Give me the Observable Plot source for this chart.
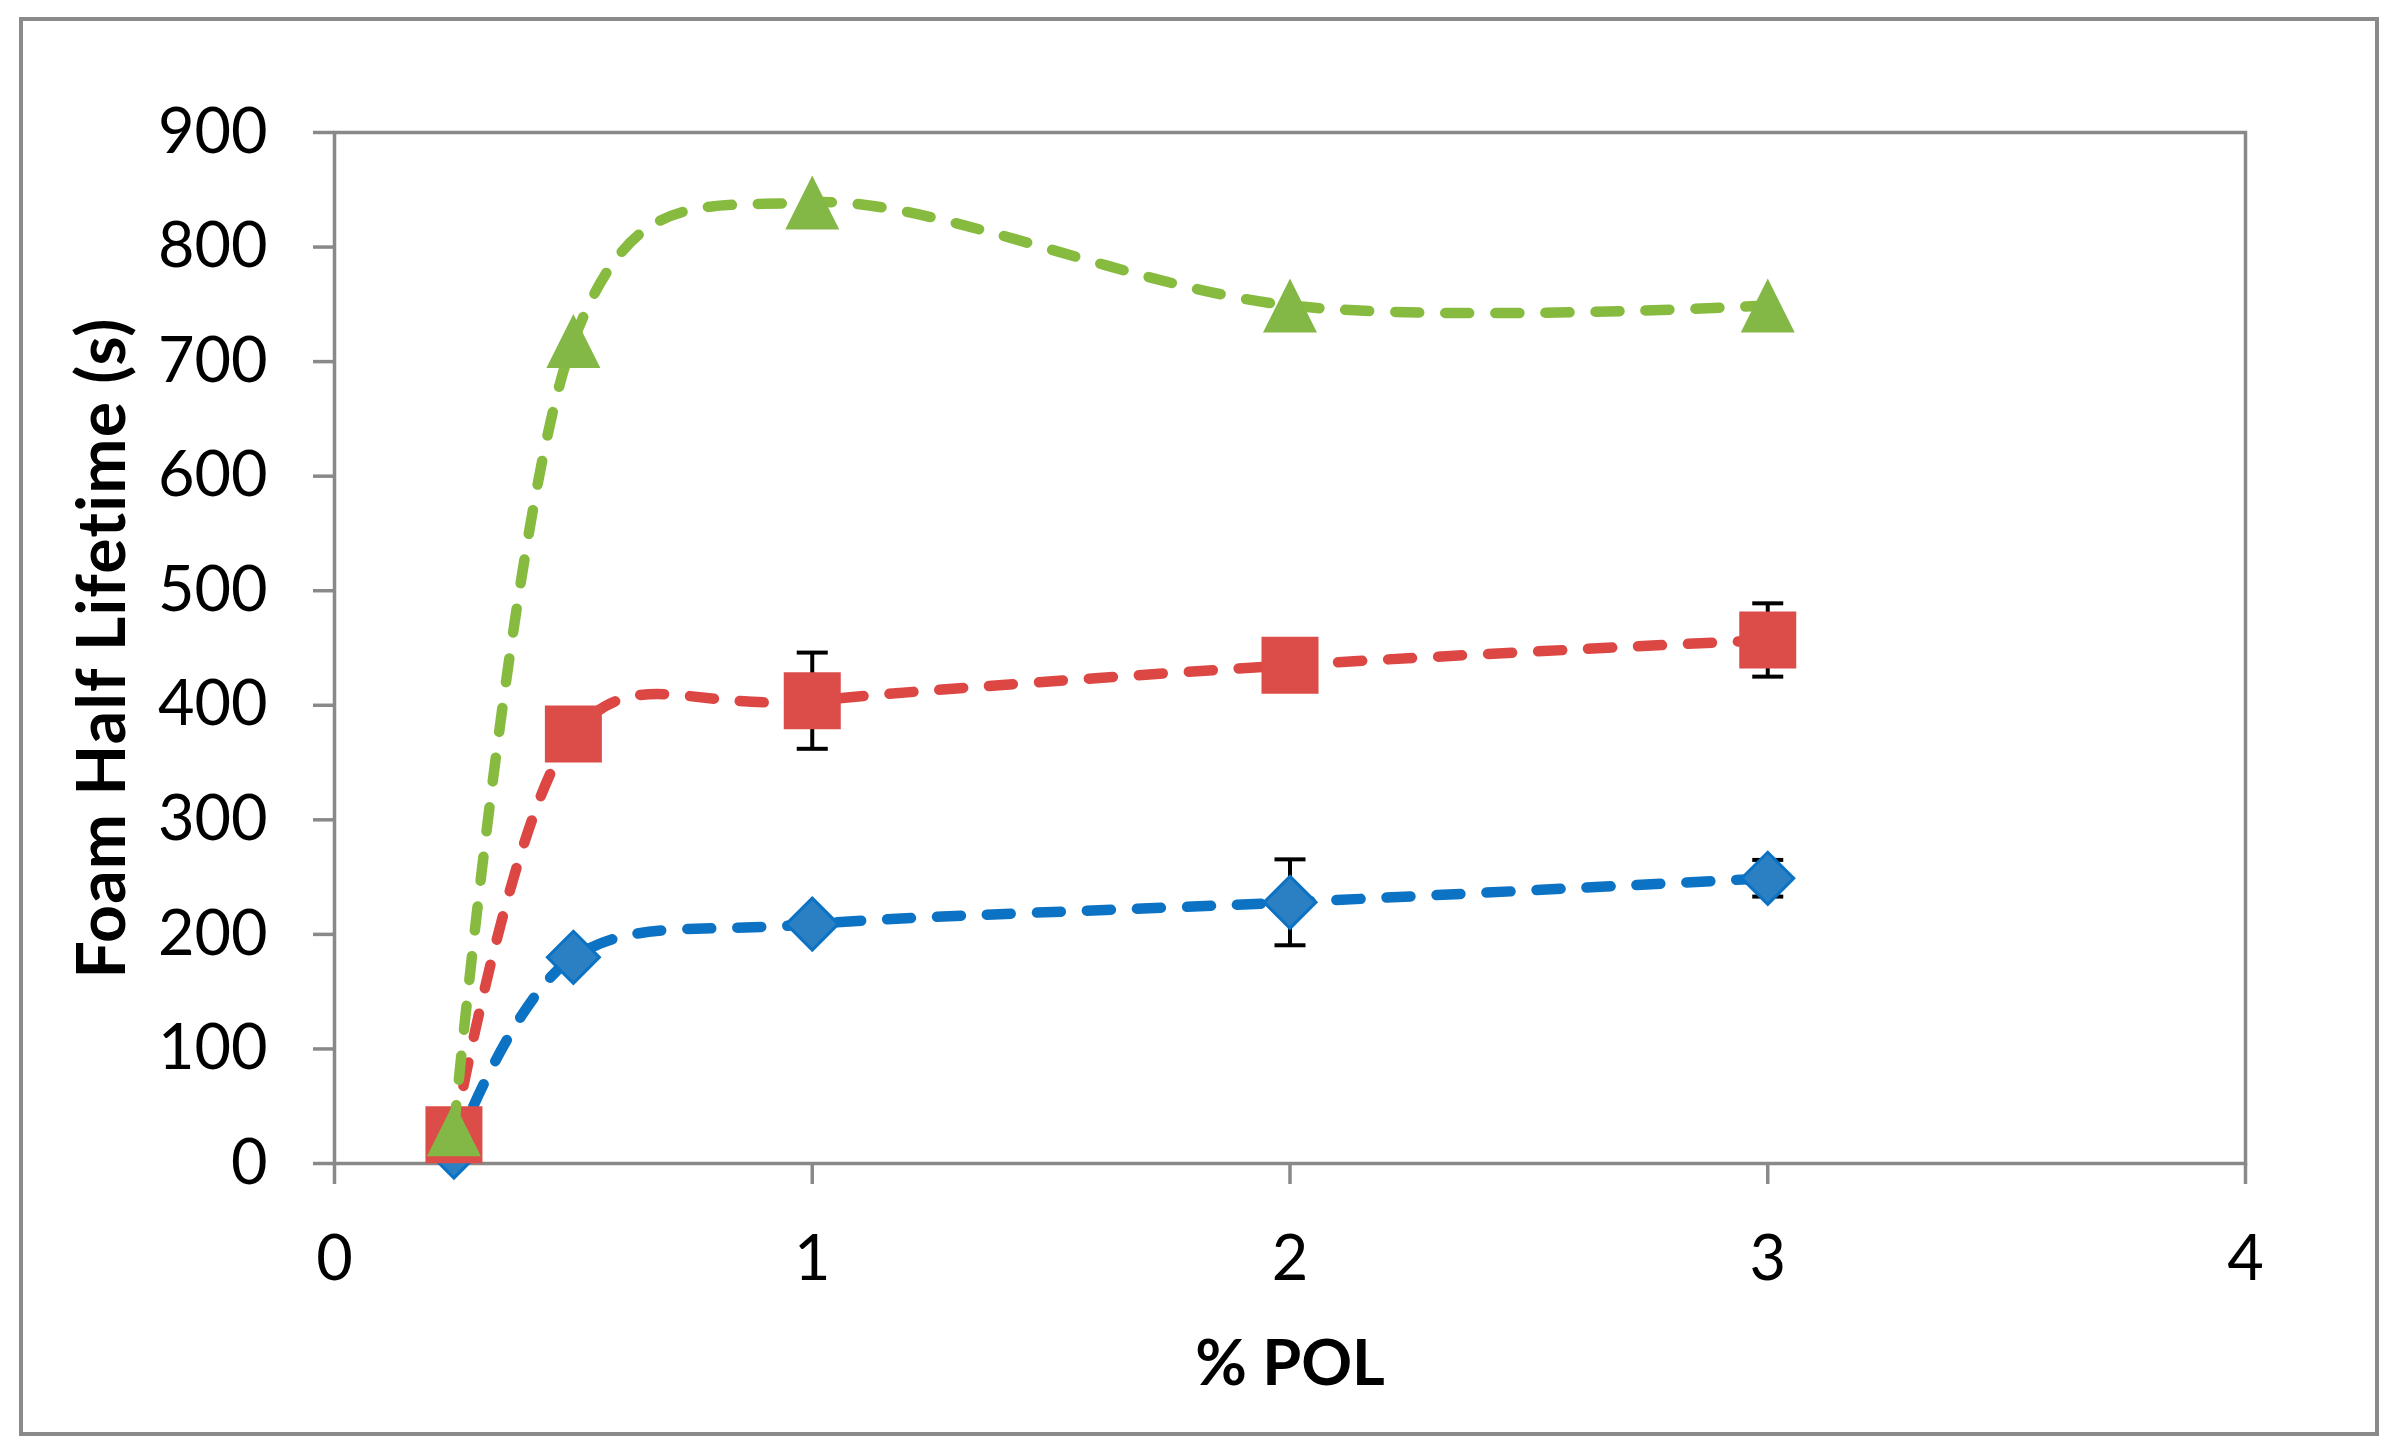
<!DOCTYPE html>
<html>
<head>
<meta charset="utf-8">
<script src="https://cdn.jsdelivr.net/npm/d3@7"></script>
<script src="https://cdn.jsdelivr.net/npm/@observablehq/plot@0.6"></script>
<style>
  html, body { margin: 0; padding: 0; background: #fff; overflow: hidden; }
  #wrap { position: relative; width: 2392px; height: 1456px; }
  #border { position: absolute; left: 19px; top: 17px; width: 2360px; height: 1419px;
            box-sizing: border-box; border: 4px solid #8a8a8a; pointer-events: none; }
</style>
</head>
<body>
<div id="wrap"><div id="border"></div></div>
<script>
// ---- data ----
const pol = [0.25, 0.5, 1, 2, 3];
const seriesA = [10, 180, 209, 228, 249];   // blue diamonds
const seriesB = [25, 375, 404, 435, 457];   // red squares
const seriesC = [30, 718, 839, 749, 749];   // green triangles
const errA = [0, 0, 0, 37.5, 16];
const errB = [0, 0, 42, 0, 32];
const errC = [0, 0, 0, 0, 0];
const xTicks = [0, 1, 2, 3, 4];
const yTicks = [0, 100, 200, 300, 400, 500, 600, 700, 800, 900];
const xTitle = "% POL";
const yTitle = "Foam Half Lifetime (s)";

// ---- custom Excel-like marker symbols (r = half size) ----
const R = (size) => Math.sqrt(size / Math.PI);
const symSquare = {draw(c, size) { const r = R(size); c.rect(-r, -r, 2 * r, 2 * r); }};
const symDiamond = {draw(c, size) { const r = R(size); c.moveTo(0, -r); c.lineTo(r, 0); c.lineTo(0, r); c.lineTo(-r, 0); c.closePath(); }};
const symTriangle = {draw(c, size) { const r = R(size); c.moveTo(0, -r); c.lineTo(r, r); c.lineTo(-r, r); c.closePath(); }};
const symCap = {draw(c, size) { const r = R(size); c.moveTo(-r, 0); c.lineTo(r, 0); }};

const styles = [
  {vals: seriesA, err: errA, line: "#0b72c4", fill: "#2b7fc3", stroke: "#0b72c4", sw: 3, sym: symDiamond, r: 26},
  {vals: seriesB, err: errB, line: "#dc4744", fill: "#dc4c49", stroke: "none", sw: 0, sym: symSquare, r: 28.5},
  {vals: seriesC, err: errC, line: "#86bb40", fill: "#84b846", stroke: "none", sw: 0, sym: symTriangle, r: 27}
];

const marks = [];
for (const s of styles) {
  const rows = pol.map((x, i) => ({x, y: s.vals[i], e: s.err[i]}));
  const eb = rows.filter(d => d.e > 0);
  marks.push(Plot.line(rows, {x: "x", y: "y", curve: "cardinal", stroke: s.line, strokeWidth: 10.5,
    strokeDasharray: "24,26", strokeLinecap: "round", strokeLinejoin: "round"}));
  marks.push(Plot.ruleX(eb, {x: "x", y1: d => d.y - d.e, y2: d => d.y + d.e, stroke: "#000", strokeWidth: 4}));
  marks.push(Plot.dot(eb, {x: "x", y: d => d.y + d.e, symbol: symCap, r: 15.5, stroke: "#000", strokeWidth: 4, fill: "none"}));
  marks.push(Plot.dot(eb, {x: "x", y: d => d.y - d.e, symbol: symCap, r: 15.5, stroke: "#000", strokeWidth: 4, fill: "none"}));
  marks.push(Plot.dot(rows, {x: "x", y: "y", symbol: s.sym, r: s.r, fill: s.fill, stroke: s.stroke, strokeWidth: s.sw}));
}

const chart = Plot.plot({
  width: 2392,
  height: 1456,
  marginLeft: 334,
  marginRight: 147,
  marginTop: 132,
  marginBottom: 293,
  style: {fontFamily: "Lato, 'Open Sans', sans-serif", background: "transparent", color: "#000"},
  x: {domain: [0, 4], ticks: xTicks},
  y: {domain: [0, 900], ticks: yTicks},
  marks: [
    Plot.frame({stroke: "#898989", strokeWidth: 3.5}),
    Plot.axisX({ticks: xTicks, tickSize: 21, tickPadding: 51, fontSize: 63, stroke: "#898989", strokeWidth: 3.5, fill: "#000", label: null, tickFormat: d => String(d)}),
    Plot.axisY({ticks: yTicks, tickSize: 21, tickPadding: 46, fontSize: 63, stroke: "#898989", strokeWidth: 3.5, fill: "#000", label: null, tickFormat: d => String(d)}),
    ...marks,
    Plot.text([xTitle], {text: d => d, frameAnchor: "bottom", dy: 177, lineAnchor: "top", textAnchor: "middle", fontSize: 63, fontWeight: "bold", fill: "#000"}),
    Plot.text([yTitle], {text: d => d, frameAnchor: "left", dx: -231, rotate: -90, textAnchor: "middle", lineAnchor: "middle", fontSize: 66, fontWeight: "bold", fill: "#000", className: "ytitle"})
  ]
});
chart.querySelectorAll(".ytitle text").forEach(t => { t.style.letterSpacing = "1.2px"; });
document.getElementById("wrap").insertBefore(chart, document.getElementById("border"));
</script>
</body>
</html>
